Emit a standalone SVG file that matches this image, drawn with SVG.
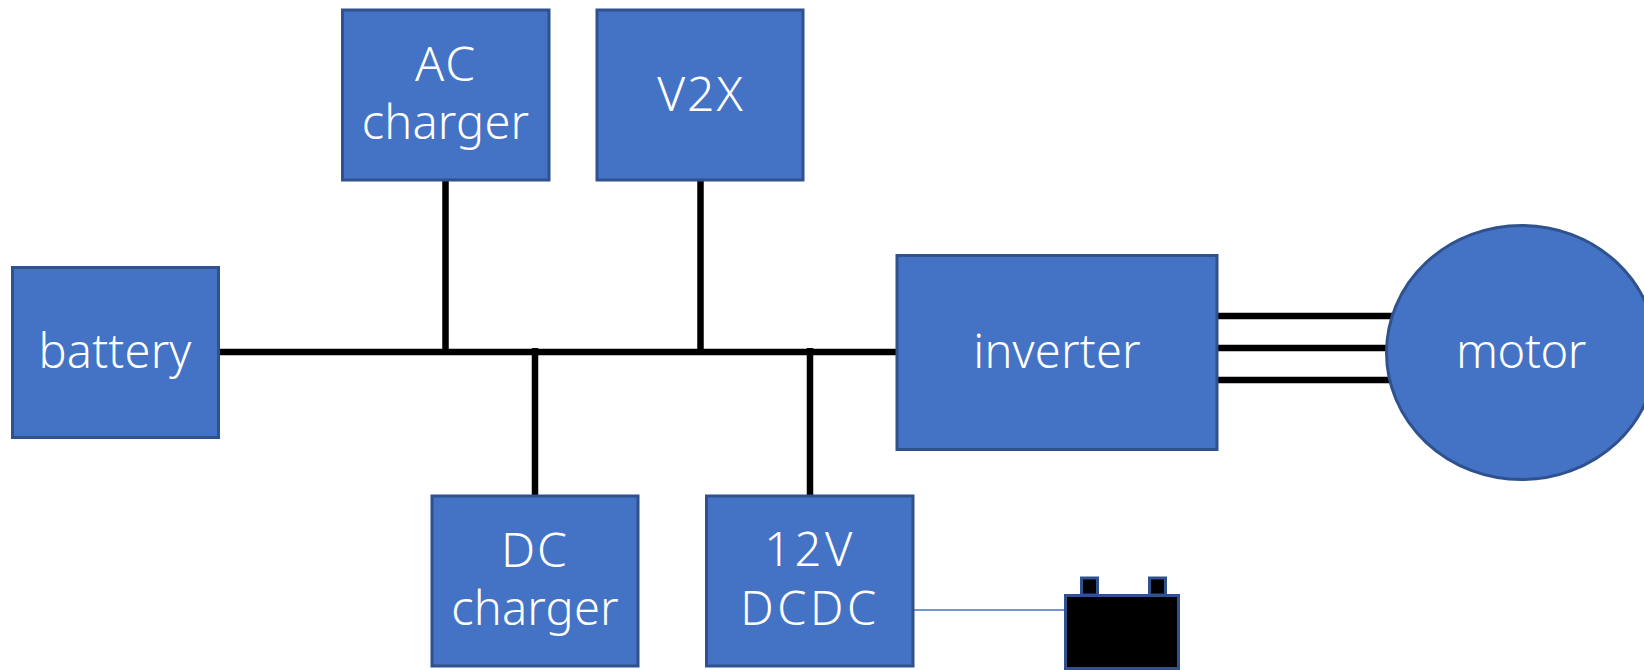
<svg xmlns="http://www.w3.org/2000/svg" width="1644" height="670" viewBox="0 0 1644 670">
<style>
.n{fill:#4472c4;stroke:#2f528f;stroke-width:3}
.k{fill:#000;stroke:#2f528f;stroke-width:3}
.c{stroke:#000;stroke-width:6.500;fill:none}
.t{fill:#fff;font-family:"Noto Sans","Open Sans",sans-serif;font-weight:300;font-size:47px;text-anchor:middle;letter-spacing:.2px}
.u{font-size:48px;letter-spacing:2px}
.w{letter-spacing:3.500px}
</style>
<rect width="1644" height="670" fill="#fff"/>
<g id="connectors">
<path class="c" d="M218 352H897M445.500 180V352M700.500 181V352M535 348V495M810 348V495M1217 316H1395M1217 348H1390M1217 380H1395"/>
<path d="M913 610H1065" stroke="#4472c4" stroke-width="1.500" fill="none"/>
</g>
<g id="battery"><rect class="n" x="12.500" y="267.500" width="206" height="170"/><text class="t" x="115" y="368">battery</text></g>
<g id="ac-charger"><rect class="n" x="342.500" y="10" width="206.500" height="170"/><text class="t" x="446" y="81"><tspan class="u">AC</tspan></text><text class="t" x="445.500" y="139">charger</text></g>
<g id="v2x"><rect class="n" x="597" y="10" width="206" height="170"/><text class="t u" x="701" y="111">V2X</text></g>
<g id="dc-charger"><rect class="n" x="432" y="496" width="206" height="170"/><text class="t" x="535" y="567"><tspan class="u">DC</tspan></text><text class="t" x="535" y="625">charger</text></g>
<g id="dcdc"><rect class="n" x="706.500" y="496" width="206.500" height="170"/><text class="t w" x="810" y="566">12V</text><text class="t w" x="810" y="625">DCDC</text></g>
<g id="inverter"><rect class="n" x="897" y="255.500" width="320" height="194"/><text class="t" x="1057" y="368">inverter</text></g>
<g id="motor"><ellipse class="n" cx="1521.500" cy="352.500" rx="135" ry="127"/><text class="t" style="letter-spacing:-.4px" x="1521" y="368">motor</text></g>
<g id="lead-battery"><rect class="k" x="1081.500" y="578" width="16" height="17"/><rect class="k" x="1149.500" y="578" width="16" height="17"/><rect class="k" x="1065.500" y="595.500" width="113" height="73"/></g>
</svg>
